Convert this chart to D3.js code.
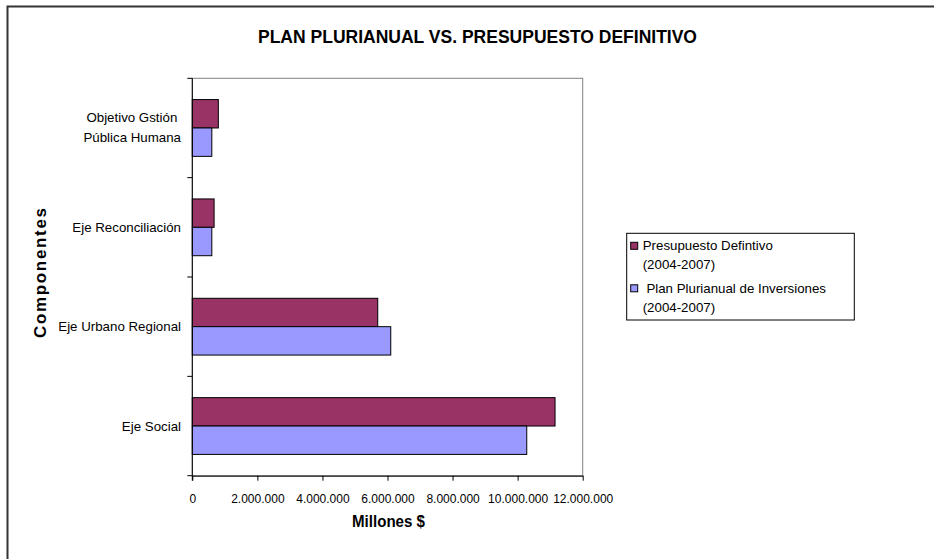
<!DOCTYPE html>
<html>
<head>
<meta charset="utf-8">
<script src="https://cdn.jsdelivr.net/npm/d3@7/dist/d3.min.js"></script>
<style>
  html, body { margin: 0; padding: 0; background: #fff; }
  svg { display: block; font-family: "Liberation Sans", Arial, sans-serif; }
</style>
</head>
<body>
<svg id="chart" width="934" height="559"></svg>
<script>
// ---- Data ----
const categories = ["Eje Social", "Eje Urbano Regional", "Eje Reconciliación", "Objetivo Gstión Pública Humana"];
const categoryLines = [["Eje Social"], ["Eje Urbano Regional"], ["Eje Reconciliación"], ["Objetivo Gstión ", "Pública Humana"]];
const seriesNames = ["Presupuesto Defintivo (2004-2007)", "Plan Plurianual de Inversiones (2004-2007)"];
const legendLines = [["Presupuesto Defintivo", "(2004-2007)"], [" Plan Plurianual de Inversiones", "(2004-2007)"]];
const presupuesto = [11150000, 5700000, 670000, 800000];
const plan = [10280000, 6100000, 600000, 600000];
const xTicks = [0, 2000000, 4000000, 6000000, 8000000, 10000000, 12000000];
const seriesColors = ["#993366", "#9999FF"];

const svg = d3.select("#chart");
const W = 934, H = 559;
const plot = { left: 192.3, right: 582.7, top: 78.3, bottom: 475.7 };

// outer frame (left & top visible)
svg.append("rect").attr("x", 7.5).attr("y", 6.5).attr("width", W + 20).attr("height", H + 20)
  .attr("fill", "none").attr("stroke", "#333").attr("stroke-width", 2);

// title
svg.append("text").attr("x", 258).attr("y", 42.7).attr("text-anchor", "start")
  .attr("font-size", 18.5).attr("font-weight", "bold").attr("fill", "#000")
  .attr("textLength", 439).attr("lengthAdjust", "spacingAndGlyphs")
  .text("PLAN PLURIANUAL VS. PRESUPUESTO DEFINITIVO");

const x = d3.scaleLinear().domain([0, 12000000]).range([plot.left, plot.right]);
const y = d3.scaleBand().domain(categories.slice().reverse()).range([plot.top, plot.bottom]).padding(0);
const ys = d3.scaleBand().domain(seriesNames).range([0, y.bandwidth()]).paddingInner(0).paddingOuter(0.75);

// plot area border (gray top & right)
svg.append("rect").attr("x", plot.left).attr("y", plot.top)
  .attr("width", plot.right - plot.left).attr("height", plot.bottom - plot.top)
  .attr("fill", "none").attr("stroke", "#808080").attr("stroke-width", 1);

// bars
const data = categories.map((c, i) => ({ cat: c, vals: [presupuesto[i], plan[i]] }));
const g = svg.append("g");
data.forEach(d => {
  d.vals.forEach((v, si) => {
    g.append("rect")
      .attr("x", x(0))
      .attr("y", y(d.cat) + ys(seriesNames[si]))
      .attr("width", x(v) - x(0))
      .attr("height", ys.bandwidth())
      .attr("fill", seriesColors[si])
      .attr("stroke", "#000").attr("stroke-width", 1);
  });
});

// x axis
const xAxis = d3.axisBottom(x).tickValues(xTicks).tickSize(5).tickSizeOuter(0)
  .tickFormat(d => d3.format(",")(d).replace(/,/g, "."));
const xg = svg.append("g").attr("transform", `translate(0,${plot.bottom})`).call(xAxis);
xg.select(".domain").attr("stroke", "#000");
xg.selectAll(".tick line").attr("stroke", "#000");
xg.selectAll(".tick text").attr("font-size", 12).attr("fill", "#000")
  .attr("font-family", "Liberation Sans, Arial, sans-serif").attr("dy", "0").attr("y", 27);

// y axis (ticks at category boundaries)
svg.append("line").attr("x1", plot.left).attr("x2", plot.left).attr("y1", plot.top).attr("y2", plot.bottom + 5)
  .attr("stroke", "#000");
const boundaries = categories.map(c => y(c)).concat([plot.bottom]);
svg.selectAll(".ytick").data(boundaries).enter().append("line")
  .attr("x1", plot.left - 5).attr("x2", plot.left).attr("y1", d => d).attr("y2", d => d)
  .attr("stroke", "#000");

// category labels
categories.forEach((c, i) => {
  const lines = categoryLines[i];
  const cy = y(c) + y.bandwidth() / 2;
  const lh = 20;
  lines.forEach((ln, li) => {
    svg.append("text").attr("x", 181).attr("text-anchor", "end")
      .attr("y", cy + (li - (lines.length - 1) / 2) * lh + 4.5)
      .attr("font-size", 13.3).attr("fill", "#000")
      .style("white-space", "pre").text(ln);
  });
});

// axis titles
svg.append("text").attr("x", 352).attr("y", 527).attr("text-anchor", "start")
  .attr("font-size", 16.5).attr("font-weight", "bold")
  .attr("textLength", 73).attr("lengthAdjust", "spacingAndGlyphs").text("Millones $");
svg.append("text").attr("transform", `translate(46,338) rotate(-90)`).attr("text-anchor", "start")
  .attr("font-size", 17).attr("font-weight", "bold")
  .attr("textLength", 130).attr("lengthAdjust", "spacing").text("Componentes");

// legend
svg.append("rect").attr("x", 626.7).attr("y", 233.3).attr("width", 227.6).attr("height", 86.7)
  .attr("fill", "#fff").attr("stroke", "#000").attr("stroke-width", 1);
const legendY = [[250, 269], [293, 312]];
const swatchY = [242.3, 284.8];
legendLines.forEach((lines, si) => {
  svg.append("rect").attr("x", 630.7).attr("y", swatchY[si]).attr("width", 7).attr("height", 7)
    .attr("fill", seriesColors[si]).attr("stroke", "#000").attr("stroke-width", 1);
  lines.forEach((ln, li) => {
    svg.append("text").attr("x", 642.7).attr("y", legendY[si][li])
      .attr("font-size", 13.3).attr("fill", "#000").style("white-space", "pre").text(ln);
  });
});
</script>
</body>
</html>
